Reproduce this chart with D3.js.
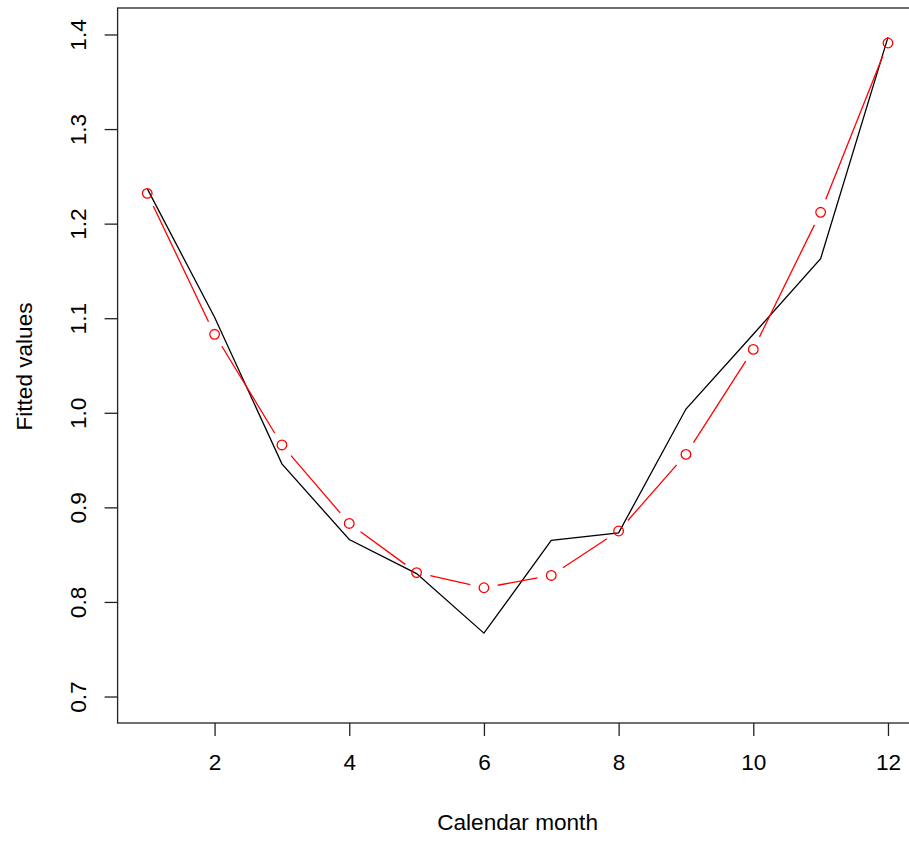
<!DOCTYPE html>
<html>
<head>
<meta charset="utf-8">
<script src="https://cdn.jsdelivr.net/npm/d3@7"></script>
<style>
  html, body { margin: 0; padding: 0; background: #fff; }
  svg { display: block; }
  text { font-family: "Liberation Sans", Arial, sans-serif; }
</style>
</head>
<body>
<svg id="chart" width="909" height="841"></svg>
<script>
const months = [1, 2, 3, 4, 5, 6, 7, 8, 9, 10, 11, 12];
const observed = [1.237, 1.101, 0.946, 0.866, 0.830, 0.767, 0.865, 0.873, 1.004, 1.083, 1.163, 1.397];
const fitted = [1.232, 1.083, 0.966, 0.883, 0.831, 0.815, 0.828, 0.875, 0.956, 1.067, 1.212, 1.391];
const xTicks = [2, 4, 6, 8, 10, 12];
const yTicks = [0.7, 0.8, 0.9, 1.0, 1.1, 1.2, 1.3, 1.4];
const xLabel = "Calendar month";
const yLabel = "Fitted values";

(function () {
const svg = d3.select("#chart");
const pLeft = 117.6, pRight = 917.6, pTop = 8, pBottom = 723;
const x = d3.scaleLinear().domain([0.56, 12.44]).range([pLeft, pRight]);
const y = d3.scaleLinear().domain([0.672, 1.428]).range([pBottom, pTop]);
const fontSize = 22.6;

// Box
svg.append("rect")
  .attr("x", pLeft).attr("y", pTop)
  .attr("width", pRight - pLeft).attr("height", pBottom - pTop)
  .attr("fill", "none").attr("stroke", "#222").attr("stroke-width", 1.3);

// X axis
const gx = svg.append("g").attr("transform", `translate(0,${pBottom})`)
  .call(d3.axisBottom(x).tickValues(xTicks).tickSize(13).tickPadding(18).tickFormat(d3.format("d")));
gx.select(".domain").remove();
gx.selectAll(".tick line").attr("stroke", "#222").attr("stroke-width", 1.3);
gx.selectAll(".tick text").attr("font-size", fontSize).attr("fill", "#000")
  .attr("font-family", "Liberation Sans, Arial, sans-serif");

// Y axis
const gy = svg.append("g").attr("transform", `translate(${pLeft},0)`)
  .call(d3.axisLeft(y).tickValues(yTicks).tickSize(13).tickFormat(d3.format(".1f")));
gy.select(".domain").remove();
gy.selectAll(".tick line").attr("stroke", "#222").attr("stroke-width", 1.3);
gy.selectAll(".tick text")
  .attr("font-size", fontSize).attr("fill", "#000")
  .attr("font-family", "Liberation Sans, Arial, sans-serif")
  .attr("x", null).attr("dy", null)
  .attr("text-anchor", "middle")
  .attr("transform", "translate(-32,0) rotate(-90)");

// Axis titles
svg.append("text")
  .attr("x", (x(1) + x(12)) / 2).attr("y", 830)
  .attr("text-anchor", "middle").attr("font-size", fontSize).attr("fill", "#000")
  .text(xLabel);
svg.append("text")
  .attr("transform", `translate(32,${(y(0.7) + y(1.4)) / 2 + 1}) rotate(-90)`)
  .attr("text-anchor", "middle").attr("font-size", fontSize).attr("fill", "#000")
  .text(yLabel);

// Observed (black) line
const line = d3.line().x(d => x(d[0])).y(d => y(d[1]));
svg.append("path")
  .datum(months.map((m, i) => [m, observed[i]]))
  .attr("d", line)
  .attr("fill", "none").attr("stroke", "#000").attr("stroke-width", 1.3);

// Fitted (red) type="b": segments with gaps around points
const pts = months.map((m, i) => [x(m), y(fitted[i])]);
const gap = 14;
const segs = [];
for (let i = 0; i < pts.length - 1; i++) {
  const [x1, y1] = pts[i], [x2, y2] = pts[i + 1];
  const dx = x2 - x1, dy = y2 - y1, L = Math.hypot(dx, dy);
  if (L > 2 * gap) {
    const ux = dx / L, uy = dy / L;
    segs.push([x1 + ux * gap, y1 + uy * gap, x2 - ux * gap, y2 - uy * gap]);
  }
}
svg.append("g").selectAll("line").data(segs).join("line")
  .attr("x1", d => d[0]).attr("y1", d => d[1])
  .attr("x2", d => d[2]).attr("y2", d => d[3])
  .attr("stroke", "#ff0000").attr("stroke-width", 1.3);
svg.append("g").selectAll("circle").data(months).join("circle")
  .attr("cx", d => x(d)).attr("cy", (d, i) => y(fitted[i]))
  .attr("r", 4.8)
  .attr("fill", "none").attr("stroke", "#ff0000").attr("stroke-width", 1.3);
})();
</script>
</body>
</html>
